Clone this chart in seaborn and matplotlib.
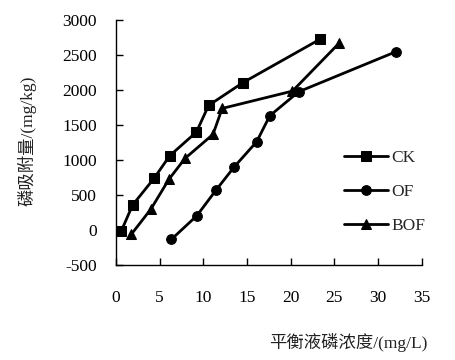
import pandas as pd
import numpy as np
import matplotlib.pyplot as plt
import seaborn as sns

# data
ck_x = [0.6, 1.9, 4.35, 6.15, 9.2, 10.6, 14.5, 23.3]
ck_y = [-15, 357, 738, 1062, 1400, 1781, 2105, 2724]
of_x = [6.35, 9.25, 11.45, 13.55, 16.1, 17.6, 20.9, 32.0]
of_y = [-133, 204, 571, 905, 1262, 1633, 1976, 2547]
bof_x = [1.75, 4.0, 6.05, 7.9, 11.1, 12.15, 20.2, 25.5]
bof_y = [-62, 300, 724, 1024, 1367, 1738, 1986, 2667]

df = pd.concat([
    pd.DataFrame({'x': ck_x, 'y': ck_y, 'group': 'CK'}),
    pd.DataFrame({'x': of_x, 'y': of_y, 'group': 'OF'}),
    pd.DataFrame({'x': bof_x, 'y': bof_y, 'group': 'BOF'}),
], ignore_index=True)

sns.set_style('ticks')
plt.rcParams['font.family'] = ['Liberation Serif', 'Noto Sans CJK SC']
plt.rcParams['axes.unicode_minus'] = False

fig = plt.figure(figsize=(4.55, 3.6), dpi=100)
ax = fig.add_axes([0.255, 0.264, 0.672, 0.68])

sns.lineplot(data=df, x='x', y='y', hue='group', style='group',
             markers={'CK': 's', 'OF': 'o', 'BOF': '^'}, dashes=False,
             palette=['black'] * 3, sort=False, linewidth=2,
             markersize=7, markeredgecolor='black', ax=ax)

ax.set_xlim(0, 35)
ax.set_ylim(-500, 3000)
ax.set_xticks(np.arange(0, 36, 5))
ax.set_yticks(np.arange(-500, 3001, 500))
ax.tick_params(direction='in', length=5, width=1, colors='black', labelsize=12.5)
ax.tick_params(axis='x', pad=18)
ax.tick_params(axis='y', pad=14)
for s in ['top', 'right']:
    ax.spines[s].set_visible(False)
for s in ['left', 'bottom']:
    ax.spines[s].set_color('black')
    ax.spines[s].set_linewidth(1)

ax.set_xlabel('')
ax.set_ylabel('')
fig.text(0.765, 0.05, '平衡液磷浓度/(mg/L)', ha='center', va='center', fontsize=12.5,
         family=['Liberation Serif', 'Noto Sans CJK SC'], color='#222222')
fig.text(0.06, 0.61, '磷吸附量/(mg/kg)', ha='center', va='center', rotation=90, fontsize=12.5,
         family=['Liberation Serif', 'Noto Sans CJK SC'], color='#222222')

ax.legend(title=None, frameon=False, loc='upper left', bbox_to_anchor=(0.724, 0.5),
          handlelength=2.5, labelspacing=1.05, handletextpad=0.2, fontsize=12.5,
          borderaxespad=0)

fig.savefig('out.png', dpi=100)
